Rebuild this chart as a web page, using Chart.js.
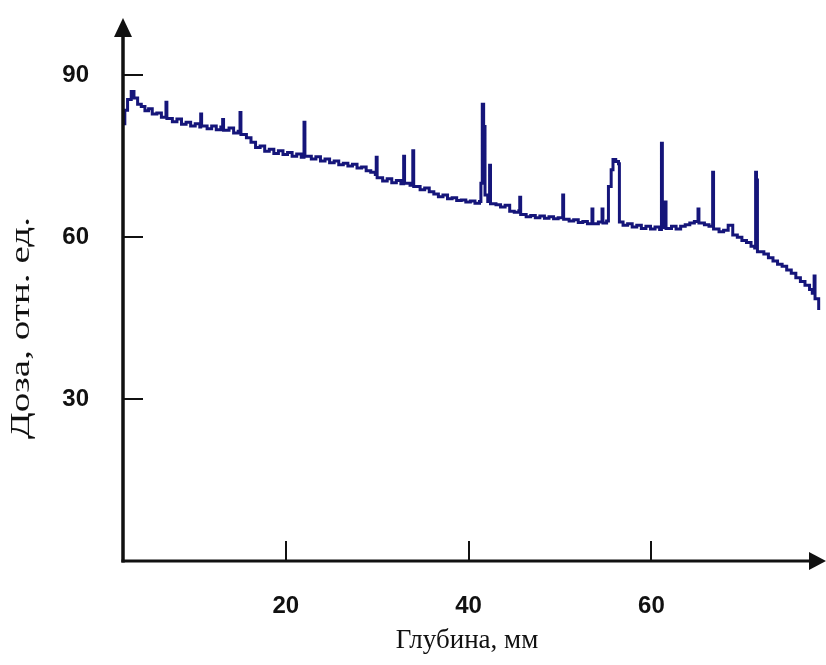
<!DOCTYPE html>
<html>
<head>
<meta charset="utf-8">
<script src="https://cdn.jsdelivr.net/npm/chart.js@4.4.1/dist/chart.umd.min.js"></script>
<style>
  html, body { margin: 0; padding: 0; background: #fff; }
  canvas { display: block; }
</style>
</head>
<body>
<canvas id="doseChart" width="826" height="665"></canvas>
<script>
// depth, mm
const depth = [
  2.2, 2.4, 2.7, 3.1, 3.4, 3.8, 4.2, 4.6, 5.0, 5.4,
  5.9, 6.4, 6.9, 7.0, 7.6, 8.1, 8.6, 9.1, 9.6, 10.1,
  10.6, 10.7, 10.8, 11.4, 11.9, 12.4, 12.9, 13.1, 13.2, 13.8,
  14.3, 14.8, 15.0, 15.1, 15.7, 16.2, 16.7, 17.2, 17.7, 18.2,
  18.7, 19.2, 19.7, 20.2, 20.7, 21.2, 21.7, 22.0, 22.1, 22.8,
  23.3, 23.8, 24.3, 24.8, 25.3, 25.8, 26.3, 26.8, 27.3, 27.8,
  28.3, 28.8, 29.3, 29.8, 29.9, 30.0, 30.6, 31.1, 31.6, 32.1,
  32.6, 32.9, 33.0, 33.6, 33.9, 34.0, 34.7, 35.2, 35.7, 36.2,
  36.7, 37.2, 37.7, 38.2, 38.7, 39.2, 39.7, 40.2, 40.7, 41.2,
  41.35, 41.5, 41.65, 41.8, 42.1, 42.3, 42.4, 43.0, 43.5, 44.0,
  44.5, 45.0, 45.5, 45.6, 45.7, 46.3, 46.8, 47.3, 47.8, 48.3,
  48.8, 49.3, 49.8, 50.3, 50.4, 51.0, 51.5, 52.0, 52.5, 53.0,
  53.5, 53.6, 54.2, 54.6, 54.7, 55.1, 55.3, 55.6, 55.8, 56.1,
  56.4, 56.5, 56.9, 57.4, 57.9, 58.4, 58.9, 59.4, 59.9, 60.4,
  60.9, 61.1, 61.2, 61.5, 61.6, 62.2, 62.7, 63.2, 63.7, 64.2,
  64.7, 65.1, 65.2, 65.8, 66.3, 66.7, 66.8, 67.4, 67.9, 68.4,
  68.9, 69.4, 69.9, 70.4, 70.9, 71.3, 71.4, 71.5, 71.6, 72.3,
  72.8, 73.3, 73.8, 74.3, 74.8, 75.3, 75.8, 76.3, 76.8, 77.3,
  77.6, 77.8, 77.9, 78.3
];

// dose, rel. units
const dose = [
  81.0, 83.5, 85.5, 87.0, 85.8, 84.6, 84.2, 83.4, 83.8, 82.8,
  83.0, 82.2, 85.0, 82.0, 81.4, 81.9, 80.9, 81.3, 80.6, 81.0,
  80.4, 82.8, 80.6, 80.1, 80.6, 79.9, 80.4, 81.8, 79.8, 80.2,
  79.3, 79.6, 83.1, 79.0, 78.4, 77.6, 76.6, 76.9, 75.9, 76.3,
  75.5, 76.0, 75.3, 75.7, 75.0, 75.4, 74.8, 81.3, 75.0, 74.5,
  74.9, 74.1, 74.5, 73.8, 74.1, 73.4, 73.7, 73.2, 73.5, 72.8,
  73.0, 72.3, 72.0, 71.6, 74.8, 71.0, 70.4, 70.8, 70.1, 70.5,
  69.9, 75.0, 70.0, 69.6, 76.0, 69.4, 68.8, 69.1, 68.4, 68.0,
  67.5, 67.8, 67.1, 67.3, 66.8, 66.9, 66.5, 66.7, 66.3, 66.6,
  70.0, 84.6, 80.5, 67.8, 66.6, 73.3, 66.2, 66.0, 65.6, 65.9,
  64.8, 64.6, 64.9, 67.4, 64.2, 63.8, 64.0, 63.6, 63.9, 63.5,
  63.8, 63.4, 63.6, 67.8, 63.3, 63.0, 63.2, 62.7, 62.9, 62.5,
  65.2, 62.5, 62.8, 65.2, 62.6, 63.0, 69.4, 72.5, 74.4, 74.0,
  73.6, 62.8, 62.2, 62.5, 61.9, 62.2, 61.6, 62.0, 61.5, 61.9,
  61.4, 77.4, 61.8, 66.5, 61.6, 62.0, 61.5, 62.0, 62.3, 62.6,
  62.9, 65.2, 62.6, 62.3, 62.0, 72.0, 61.5, 61.0, 61.3, 62.2,
  60.4, 60.0, 59.4, 59.0, 58.3, 58.0, 72.0, 70.6, 57.3, 56.9,
  56.2, 55.6, 55.0, 54.6, 53.9, 53.3, 52.5, 51.8, 51.1, 50.3,
  49.6, 52.8, 48.6, 46.5
];

const xTicks = [20, 40, 60];
const yTicks = [30, 60, 90];
const xTitle = 'Глубина, мм';
const yTitle = 'Доза, отн. ед.';

// axes with arrows, inward tick marks and axis titles
const arrowAxes = {
  id: 'arrowAxes',
  afterDraw(chart) {
    const { ctx, chartArea: a, scales: { x, y } } = chart;
    ctx.save();
    ctx.strokeStyle = '#111';
    ctx.fillStyle = '#111';

    // y axis + arrow
    ctx.lineWidth = 3.5;
    ctx.beginPath();
    ctx.moveTo(a.left, a.bottom + 1.5);
    ctx.lineTo(a.left, a.top + 16);
    ctx.stroke();
    ctx.beginPath();
    ctx.moveTo(a.left, a.top);
    ctx.lineTo(a.left - 9, a.top + 19);
    ctx.lineTo(a.left + 9, a.top + 19);
    ctx.closePath();
    ctx.fill();

    // x axis + arrow
    ctx.lineWidth = 3;
    ctx.beginPath();
    ctx.moveTo(a.left - 1.5, a.bottom);
    ctx.lineTo(a.right - 14, a.bottom);
    ctx.stroke();
    ctx.beginPath();
    ctx.moveTo(a.right, a.bottom);
    ctx.lineTo(a.right - 17, a.bottom - 9);
    ctx.lineTo(a.right - 17, a.bottom + 9);
    ctx.closePath();
    ctx.fill();

    // tick marks pointing inside
    ctx.lineWidth = 2;
    y.ticks.forEach(t => {
      const py = Math.round(y.getPixelForValue(t.value));
      ctx.beginPath();
      ctx.moveTo(a.left, py);
      ctx.lineTo(a.left + 20, py);
      ctx.stroke();
    });
    x.ticks.forEach(t => {
      const px = Math.round(x.getPixelForValue(t.value));
      ctx.beginPath();
      ctx.moveTo(px, a.bottom);
      ctx.lineTo(px, a.bottom - 20);
      ctx.stroke();
    });

    // titles
    ctx.font = '27px "Liberation Serif", "Times New Roman", serif';
    ctx.textAlign = 'center';
    ctx.textBaseline = 'middle';
    ctx.fillText(xTitle, 467, 641);

    ctx.translate(22, 328);
    ctx.rotate(-Math.PI / 2);
    const w = ctx.measureText(yTitle).width;
    ctx.scale(222 / w, 1);
    ctx.fillText(yTitle, 0, 0);
    ctx.restore();
  }
};

const tickFont = { family: '"Liberation Sans", Arial, sans-serif', size: 24, weight: 'bold' };

new Chart(document.getElementById('doseChart'), {
  type: 'line',
  data: {
    datasets: [{
      data: depth.map((d, i) => ({ x: d, y: dose[i] })),
      borderColor: '#15157a',
      borderWidth: 3,
      stepped: true,
      pointRadius: 0,
      fill: false
    }]
  },
  options: {
    responsive: false,
    animation: false,
    devicePixelRatio: 1,
    layout: { padding: { top: 18, right: 0, left: 0, bottom: 0 } },
    plugins: {
      legend: { display: false },
      tooltip: { enabled: false }
    },
    scales: {
      x: {
        type: 'linear',
        min: 2.2,
        max: 79.1,
        afterBuildTicks: s => { s.ticks = xTicks.map(v => ({ value: v })); },
        afterFit: s => {
          s.height = 104;
          s.paddingLeft = 0;
          s.paddingRight = 0;
        },
        grid: { display: false, drawTicks: false },
        border: { display: false },
        ticks: { font: tickFont, color: '#111', padding: 31, maxRotation: 0 }
      },
      y: {
        min: 0,
        max: 100.6,
        afterBuildTicks: s => { s.ticks = yTicks.map(v => ({ value: v })); },
        afterFit: s => {
          s.width = 123;
          s.paddingTop = 0;
          s.paddingBottom = 0;
        },
        grid: { display: false, drawTicks: false },
        border: { display: false },
        ticks: { font: tickFont, color: '#111', padding: 34 }
      }
    }
  },
  plugins: [arrowAxes]
});
</script>
</body>
</html>
